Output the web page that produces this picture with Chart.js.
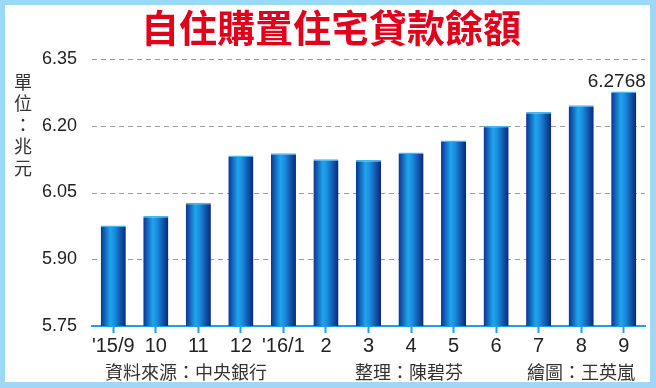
<!DOCTYPE html>
<html>
<head>
<meta charset="utf-8">
<script src="https://cdn.jsdelivr.net/npm/chart.js@4/dist/chart.umd.min.js"></script>
<style>
  html, body { margin: 0; padding: 0; background: #fff; }
  #wrap { width: 656px; height: 388px; position: relative; }
</style>
</head>
<body>
<div id="wrap"><canvas id="loanChart" width="656" height="388"></canvas></div>
<script>
const months = ["'15/9", '10', '11', '12', "'16/1", '2', '3', '4', '5', '6', '7', '8', '9'];
const balance = [5.976, 5.997, 6.027, 6.133, 6.138, 6.125, 6.123, 6.140, 6.167, 6.200, 6.231, 6.246, 6.2768];
const yTicks = [5.75, 5.90, 6.05, 6.20, 6.35];
const title = '自住購置住宅貸款餘額';
const unitLabel = ['單', '位', '：', '兆', '元'];
const lastLabel = '6.2768';

const CJK = "'Noto Sans CJK TC', 'Noto Sans CJK SC', sans-serif";
const LAT = "'Liberation Sans', Arial, sans-serif";
const BAR_PCT = 0.59;

function barGradient(ctx) {
  const chart = ctx.chart;
  const x = chart.scales.x;
  if (!chart.chartArea || !x) return '#1a7fd8';
  const cx = x.getPixelForValue(ctx.dataIndex);
  const half = (x.width / months.length) * BAR_PCT / 2;
  const g = chart.ctx.createLinearGradient(cx - half, 0, cx + half, 0);
  g.addColorStop(0, '#0b3292');
  g.addColorStop(0.38, '#1ea6ec');
  g.addColorStop(0.55, '#1a8de0');
  g.addColorStop(1, '#0a267c');
  return g;
}

// dashed horizontal grid lines
const dashedGrid = {
  id: 'dashedGrid',
  beforeDatasetsDraw(chart) {
    const c = chart.ctx;
    const y = chart.scales.y;
    const { left, right } = chart.chartArea;
    c.save();
    c.strokeStyle = '#9a9a9a';
    c.lineWidth = 1;
    c.setLineDash([5, 4]);
    yTicks.slice(1).forEach((v) => {
      const py = Math.round(y.getPixelForValue(v)) + 0.5;
      c.beginPath();
      c.moveTo(left, py);
      c.lineTo(right, py);
      c.stroke();
    });
    c.restore();
  },
};

// frame, title, unit label, footer, value label
const decorations = {
  id: 'decorations',
  beforeDraw(chart) {
    const c = chart.ctx;
    c.save();
    c.fillStyle = '#ffffff';
    c.fillRect(0, 0, chart.width, chart.height);
    c.restore();
  },
  afterDraw(chart) {
    const c = chart.ctx;
    c.save();
    c.fillStyle = '#9fd8f6';
    c.fillRect(0, 0, 656, 5);
    c.fillRect(0, 0, 5, 388);
    c.fillRect(650, 0, 6, 388);
    c.fillRect(0, 382, 656, 6);

    c.fillStyle = '#e3001b';
    c.font = 'bold 38px ' + CJK;
    c.textAlign = 'center';
    c.textBaseline = 'middle';
    c.fillText(title, 331, 28);

    c.fillStyle = '#333333';
    c.font = '18px ' + CJK;
    unitLabel.forEach((ch, i) => c.fillText(ch, 23, 82 + i * 21.5));

    c.textAlign = 'left';
    c.fillText('資料來源：中央銀行', 105, 372);
    c.fillText('整理：陳碧芬', 355, 372);
    c.textAlign = 'right';
    c.fillText('繪圖：王英嵐', 635, 372);

    const bar = chart.getDatasetMeta(0).data[balance.length - 1];
    c.font = '19px ' + LAT;
    c.textAlign = 'center';
    c.fillStyle = '#222222';
    c.fillText(lastLabel, bar.x - 7, bar.y - 10);
    c.restore();
  },
};

new Chart(document.getElementById('loanChart').getContext('2d'), {
  type: 'bar',
  data: {
    labels: months,
    datasets: [
      {
        data: balance,
        backgroundColor: barGradient,
        borderColor: '#45b4f0',
        borderWidth: { top: 1.5, left: 0, right: 0, bottom: 0 },
        borderSkipped: false,
        categoryPercentage: 1,
        barPercentage: BAR_PCT,
      },
    ],
  },
  options: {
    responsive: false,
    animation: false,
    layout: {
      padding: { top: 59, right: 11, bottom: 30, left: 0 },
    },
    plugins: {
      legend: { display: false },
      tooltip: { enabled: false },
    },
    scales: {
      y: {
        min: yTicks[0],
        max: yTicks[yTicks.length - 1],
        afterBuildTicks(scale) {
          scale.ticks = yTicks.map((v) => ({ value: v }));
        },
        afterFit(scale) {
          scale.width = 92;
        },
        grid: { display: false },
        border: { display: false },
        ticks: {
          padding: 7,
          color: '#222222',
          font: { size: 18, family: LAT },
          callback(v) {
            return Number(v).toFixed(2);
          },
        },
      },
      x: {
        offset: true,
        afterFit(scale) {
          scale.height = 32;
        },
        border: { display: true, color: '#1e9fe3', width: 2 },
        grid: {
          offset: false,
          drawOnChartArea: false,
          drawTicks: true,
          tickLength: 7,
          tickWidth: 2,
          color: '#1e9fe3',
        },
        ticks: {
          padding: 1,
          color: '#222222',
          maxRotation: 0,
          autoSkip: false,
          font: { size: 20, family: LAT },
        },
      },
    },
  },
  plugins: [dashedGrid, decorations],
});
</script>
</body>
</html>
